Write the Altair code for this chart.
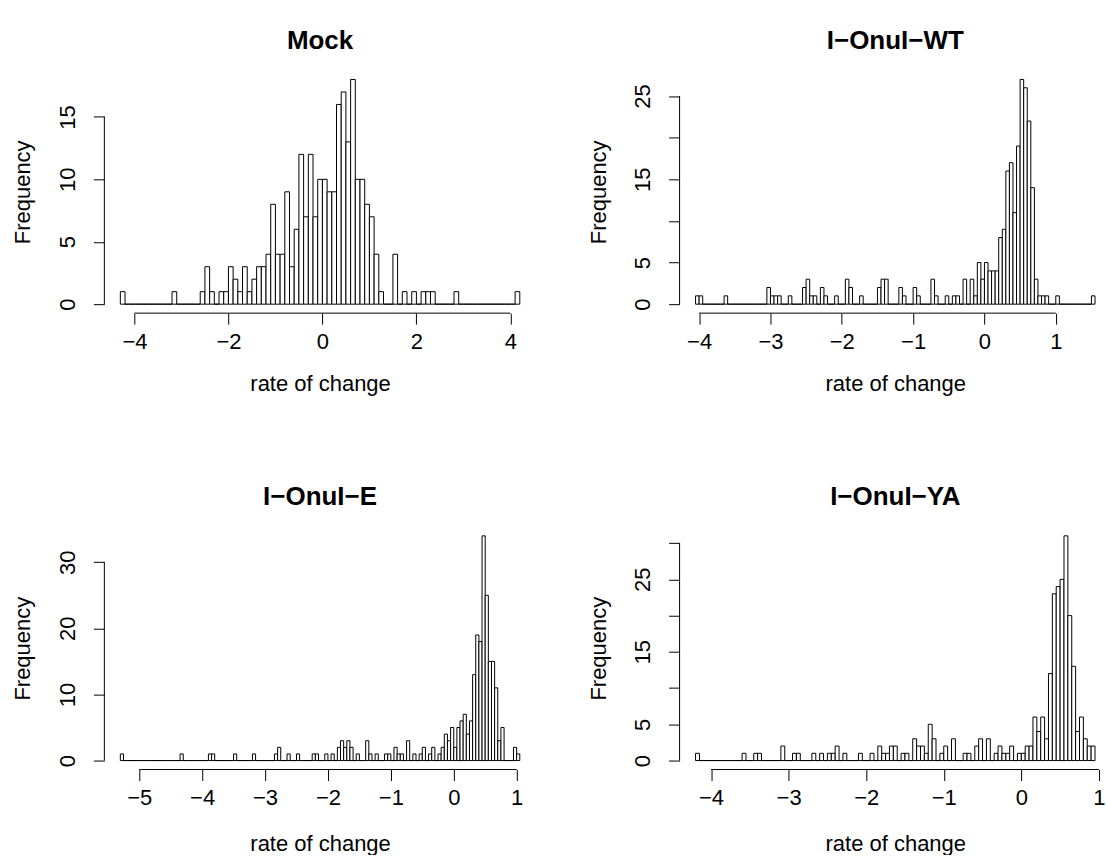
import altair as alt
import pandas as pd

FONT = "Liberation Sans"
AX_FS = 22
TI_FS = 26

# ---------------- data (histogram counts) ----------------
titles = ["Mock", "I\u2212OnuI\u2212WT", "I\u2212OnuI\u2212E", "I\u2212OnuI\u2212YA"]

mock_start, mock_width = -4.3, 0.1
mock_counts = [1, 0, 0, 0, 0, 0, 0, 0, 0, 0,
               0, 1, 0, 0, 0, 0, 0, 1, 3, 1,
               0, 1, 1, 3, 2, 1, 3, 1, 2, 3,
               3, 4, 8, 4, 4, 9, 3, 6, 12, 7,
               12, 7, 10, 10, 9, 9, 16, 17, 13, 18,
               10, 10, 8, 7, 4, 1, 0, 0, 4, 0,
               1, 0, 1, 0, 1, 1, 1, 0, 0, 0,
               0, 1, 0, 0, 0, 0, 0, 0, 0, 0,
               0, 0, 0, 0, 1]

wt_start, wt_width = -4.05, 0.05
wt_counts = [1, 1, 0, 0, 0, 0, 0, 0, 1, 0,
             0, 0, 0, 0, 0, 0, 0, 0, 0, 0,
             2, 1, 1, 1, 0, 0, 1, 0, 0, 0,
             2, 3, 1, 1, 0, 2, 1, 0, 0, 1,
             0, 0, 3, 2, 0, 0, 1, 0, 0, 0,
             0, 2, 3, 3, 0, 0, 0, 2, 1, 0,
             0, 2, 1, 0, 0, 0, 3, 1, 0, 0,
             1, 0, 1, 1, 0, 3, 0, 3, 1, 5,
             3, 5, 4, 4, 4, 8, 9, 16, 17, 11,
             19, 27, 26, 22, 14, 3, 1, 1, 1, 0,
             0, 1, 0, 0, 0, 0, 0, 0, 0, 0,
             0, 1]

e_start, e_width = -5.3, 0.05
e_counts = [1, 0, 0, 0, 0, 0, 0, 0, 0, 0,
            0, 0, 0, 0, 0, 0, 0, 0, 0, 1,
            0, 0, 0, 0, 0, 0, 0, 0, 1, 1,
            0, 0, 0, 0, 0, 0, 1, 0, 0, 0,
            0, 0, 1, 0, 0, 0, 0, 0, 0, 1,
            2, 0, 0, 1, 0, 0, 1, 0, 0, 0,
            0, 1, 1, 0, 0, 1, 0, 1, 0, 2,
            3, 2, 3, 2, 0, 1, 0, 0, 3, 1,
            0, 1, 0, 0, 1, 1, 0, 2, 1, 1,
            0, 3, 0, 1, 0, 1, 2, 0, 1, 2,
            0, 1, 2, 4, 3, 5, 2, 5, 6, 7,
            4, 6, 13, 19, 18, 34, 25, 15, 15, 11,
            3, 5, 0, 0, 0, 2, 1]

ya_start, ya_width = -4.2, 0.05
ya_counts = [1, 0, 0, 0, 0, 0, 0, 0, 0, 0,
             0, 0, 1, 0, 0, 1, 1, 0, 0, 0,
             0, 0, 2, 0, 0, 1, 1, 0, 0, 0,
             1, 0, 1, 0, 1, 1, 2, 0, 1, 0,
             0, 0, 1, 0, 0, 1, 0, 2, 1, 1,
             2, 2, 0, 1, 1, 0, 3, 2, 2, 1,
             5, 3, 0, 1, 2, 0, 3, 0, 0, 1,
             1, 0, 2, 3, 0, 3, 0, 1, 2, 1,
             1, 2, 0, 1, 1, 2, 2, 6, 4, 6,
             3, 12, 23, 24, 25, 31, 20, 13, 4, 6,
             3, 2, 2]

mock_xticks = [-4, -2, 0, 2, 4]
wt_xticks = [-4, -3, -2, -1, 0, 1]
e_xticks = [-5, -4, -3, -2, -1, 0, 1]
ya_xticks = [-4, -3, -2, -1, 0, 1]

mock_yticks = [0, 5, 10, 15]
wt_yticks = [0, 5, 10, 15, 20, 25]
e_yticks = [0, 10, 20, 30]
ya_yticks = [0, 5, 10, 15, 20, 25, 30]

mock_yhidden = []
wt_yhidden = [10, 20]
e_yhidden = []
ya_yhidden = [10, 20, 30]

x_title = "rate of change"
y_title = "Frequency"

# ---------------- layout ----------------
FULL_W = 432   # R plot-region width
PH = 243       # plot-region height


def panel(title, counts, start, width, xticks, yticks, yhidden, pw, xtitle_y):
    n = len(counts)
    x0 = [round(start + i * width, 6) for i in range(n)]
    x1 = [round(start + (i + 1) * width, 6) for i in range(n)]
    df = pd.DataFrame({"x0": x0, "x1": x1, "n": counts, "base": [0] * n})

    lo, hi = x0[0], x1[-1]
    ext = 0.04 * (hi - lo)
    ulo, uhi = lo - ext, hi + ext
    xdom = [ulo, ulo + (uhi - ulo) * pw / FULL_W]
    ymax = max(counts)
    ydom = [-0.04 * ymax, 1.04 * ymax]

    xscale = alt.Scale(domain=xdom, nice=False, zero=False)
    yscale = alt.Scale(domain=ydom, nice=False, zero=False)

    xaxis = alt.Axis(values=xticks, format="d", domain=False, grid=False,
                     ticks=True, tickSize=11, tickColor="black", tickWidth=1,
                     labelFont=FONT, labelFontSize=AX_FS, labelColor="black",
                     labelBaseline="middle", labelPadding=17, labelOverlap=False,
                     labelFlush=False,
                     title=x_title, titleFont=FONT, titleFontSize=AX_FS,
                     titleFontWeight="normal", titleColor="black",
                     titleBaseline="middle", titleY=xtitle_y, titleX=FULL_W / 2,
                     titleAnchor="middle", titleAlign="center")
    ykw = dict(values=yticks, format="d", domain=False, grid=False,
               ticks=True, tickSize=11, tickColor="black", tickWidth=1,
               labelFont=FONT, labelFontSize=AX_FS, labelColor="black",
               labelAngle=270, labelAlign="center", labelBaseline="middle",
               labelPadding=26, labelOverlap=False, labelFlush=False,
               title=y_title, titleFont=FONT, titleFontSize=AX_FS,
               titleFontWeight="normal", titleColor="black",
               titleAngle=270, titleBaseline="middle", titleAlign="center",
               titleX=-81.5, titleY=PH / 2)
    if yhidden:
        ykw["labelExpr"] = "indexof(%s, datum.value) >= 0 ? '' : datum.label" % str(yhidden)
    yaxis = alt.Axis(**ykw)

    bars = alt.Chart(df).mark_rect(fill="white", stroke="black", strokeWidth=1).encode(
        x=alt.X("x0:Q", scale=xscale, axis=xaxis),
        x2="x1:Q",
        y=alt.Y("n:Q", scale=yscale, axis=yaxis),
        y2="base:Q",
    )

    xline_df = pd.DataFrame({"a": [xticks[0]], "b": [xticks[-1]]})
    xline = alt.Chart(xline_df).mark_rule(color="black", strokeWidth=1).encode(
        x=alt.X("a:Q", scale=xscale, axis=xaxis),
        x2="b:Q",
        y=alt.value(PH),
    )
    yline_df = pd.DataFrame({"a": [yticks[0]], "b": [yticks[-1]]})
    yline = alt.Chart(yline_df).mark_rule(color="black", strokeWidth=1).encode(
        y=alt.Y("a:Q", scale=yscale, axis=yaxis),
        y2="b:Q",
        x=alt.value(0),
    )

    return alt.layer(bars, xline, yline).properties(
        width=pw, height=PH,
        title=alt.TitleParams(text=title, font=FONT, fontSize=TI_FS,
                              fontWeight="bold", color="black", offset=17,
                              anchor="middle", dx=(FULL_W - pw) / 2),
    )


p1 = panel(titles[0], mock_counts, mock_start, mock_width, mock_xticks, mock_yticks, mock_yhidden, FULL_W, 70)
p2 = panel(titles[1], wt_counts, wt_start, wt_width, wt_xticks, wt_yticks, wt_yhidden, 424, 70)
p3 = panel(titles[2], e_counts, e_start, e_width, e_xticks, e_yticks, e_yhidden, FULL_W, 74)
p4 = panel(titles[3], ya_counts, ya_start, ya_width, ya_xticks, ya_yticks, ya_yhidden, 424, 74)

chart = alt.concat(p1, p2, p3, p4, columns=2,
                   spacing={"row": 214, "column": 144}, bounds="flush").properties(
    padding={"left": 11.5, "top": 27, "right": 0, "bottom": 0},
    background="white",
).configure(font=FONT).configure_view(stroke=None)

chart.save("out.html", embed_options={"renderer": "svg", "actions": False})
